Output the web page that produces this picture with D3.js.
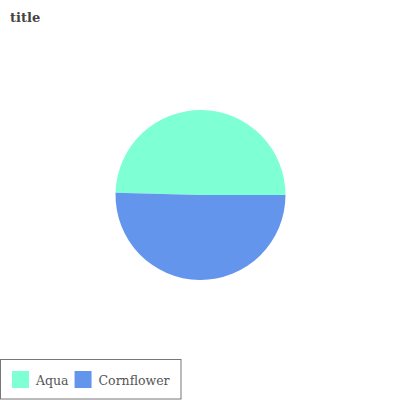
<!DOCTYPE html>
<html><head><meta charset="utf-8">
<script src="https://cdn.jsdelivr.net/npm/d3@7"></script>
<style>body{margin:0;background:#fff}</style>
</head><body>
<script>
const categories = ["Aqua", "Cornflower"];
const values = [49.6, 50.4];
const colors = ["#7fffd4", "#6495ed"];
const titleText = "title";

const W = 400, H = 400;
const svg = d3.select("body").append("svg").attr("width", W).attr("height", H);

svg.append("text").attr("x", 10).attr("y", 22)
  .attr("font-family", "DejaVu Serif").attr("font-weight", "bold")
  .attr("font-size", 13).attr("fill", "#444").text(titleText);

const data = categories.map((c, i) => ({cat: c, val: values[i], color: colors[i]}));
const pie = d3.pie().value(d => d.val)
  .sort((a, b) => categories.indexOf(b.cat) - categories.indexOf(a.cat))
  .startAngle(Math.PI / 2).endAngle(Math.PI / 2 + 2 * Math.PI);
const arc = d3.arc().innerRadius(0).outerRadius(85);
const g = svg.append("g").attr("transform", "translate(200.5,195)");
g.selectAll("path").data(pie(data)).join("path")
  .attr("d", arc).attr("fill", d => d.data.color);

const lg = svg.append("g");
lg.append("rect").attr("x", 0.5).attr("y", 359.5).attr("width", 180.5).attr("height", 39.5)
  .attr("fill", "#fff").attr("stroke", "#777").attr("stroke-width", 1);
let x = 12;
data.forEach(d => {
  lg.append("rect").attr("x", x).attr("y", 371).attr("width", 17).attr("height", 17).attr("fill", d.color);
  const t = lg.append("text").attr("x", x + 24).attr("y", 384.5)
    .attr("font-family", "DejaVu Serif").attr("font-size", 12.5).attr("fill", "#555").text(d.cat);
  x += 24 + t.node().getComputedTextLength() + 6;
});
</script>
</body></html>
